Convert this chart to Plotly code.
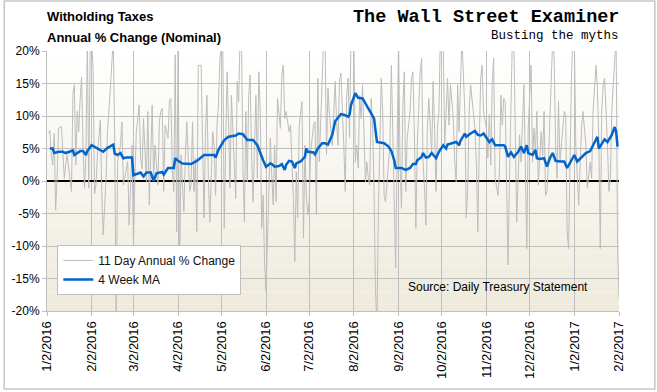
import plotly.graph_objects as go

# ---------------- data ----------------
grey_dates = [
"2016-01-03","2016-01-04","2016-01-05","2016-01-06","2016-01-07","2016-01-08","2016-01-09","2016-01-10","2016-01-12","2016-01-13",
"2016-01-14","2016-01-15","2016-01-16","2016-01-19","2016-01-20","2016-01-21","2016-01-22","2016-01-23","2016-01-24","2016-01-25",
"2016-01-26","2016-01-27","2016-01-28","2016-01-29","2016-01-30","2016-01-31","2016-02-01","2016-02-02","2016-02-03","2016-02-04",
"2016-02-05","2016-02-06","2016-02-08","2016-02-09","2016-02-10","2016-02-12","2016-02-13","2016-02-15","2016-02-17","2016-02-18",
"2016-02-19","2016-02-20","2016-02-22","2016-02-23","2016-02-24","2016-02-27","2016-02-28","2016-03-01","2016-03-02","2016-03-03",
"2016-03-04","2016-03-06","2016-03-07","2016-03-08","2016-03-09","2016-03-11","2016-03-12","2016-03-13","2016-03-15","2016-03-16",
"2016-03-17","2016-03-19","2016-03-20","2016-03-21","2016-03-22","2016-03-23","2016-03-24","2016-03-26","2016-03-27","2016-03-28",
"2016-03-29","2016-03-30","2016-03-31","2016-04-01","2016-04-02","2016-04-03","2016-04-04","2016-04-05","2016-04-06","2016-04-07",
"2016-04-08","2016-04-10","2016-04-11","2016-04-12","2016-04-13","2016-04-14","2016-04-15","2016-04-16","2016-04-18","2016-04-19",
"2016-04-20","2016-04-21","2016-04-22","2016-04-23","2016-04-24","2016-04-26","2016-04-27","2016-04-28","2016-04-29","2016-04-30",
"2016-05-01","2016-05-03","2016-05-04","2016-05-05","2016-05-06","2016-05-07","2016-05-08","2016-05-09","2016-05-11","2016-05-12",
"2016-05-13","2016-05-14","2016-05-15","2016-05-16","2016-05-17","2016-05-18","2016-05-19","2016-05-20","2016-05-21","2016-05-22",
"2016-05-23","2016-05-24","2016-05-26","2016-05-27","2016-05-28","2016-05-29","2016-05-30","2016-05-31","2016-06-01","2016-06-02",
"2016-06-04","2016-06-05","2016-06-06","2016-06-07","2016-06-08","2016-06-09","2016-06-10","2016-06-12","2016-06-13","2016-06-14",
"2016-06-15","2016-06-16","2016-06-18","2016-06-19","2016-06-20","2016-06-21","2016-06-22","2016-06-23","2016-06-24","2016-06-25",
"2016-06-26","2016-06-27","2016-06-28","2016-06-29","2016-06-30","2016-07-01","2016-07-02","2016-07-03","2016-07-05","2016-07-06",
"2016-07-07","2016-07-08","2016-07-09","2016-07-11","2016-07-12","2016-07-13","2016-07-14","2016-07-15","2016-07-16","2016-07-18",
"2016-07-19","2016-07-20","2016-07-21","2016-07-22","2016-07-23","2016-07-24","2016-07-26","2016-07-27","2016-07-28","2016-07-29",
"2016-07-30","2016-07-31","2016-08-02","2016-08-03","2016-08-04","2016-08-05","2016-08-06","2016-08-07","2016-08-08","2016-08-10",
"2016-08-11","2016-08-12","2016-08-13","2016-08-14","2016-08-15","2016-08-16","2016-08-17","2016-08-18","2016-08-19","2016-08-20",
"2016-08-21","2016-08-22","2016-08-23","2016-08-24","2016-08-26","2016-08-27","2016-08-28","2016-08-29","2016-08-30","2016-08-31",
"2016-09-02","2016-09-03","2016-09-04","2016-09-05","2016-09-06","2016-09-07","2016-09-08","2016-09-10","2016-09-11","2016-09-12",
"2016-09-13","2016-09-14","2016-09-15","2016-09-17","2016-09-18","2016-09-19","2016-09-20","2016-09-21","2016-09-22","2016-09-23",
"2016-09-25","2016-09-26","2016-09-27","2016-09-28","2016-09-29","2016-09-30","2016-10-01","2016-10-03","2016-10-04","2016-10-05",
"2016-10-06","2016-10-07","2016-10-08","2016-10-10","2016-10-11","2016-10-12","2016-10-13","2016-10-14","2016-10-15","2016-10-16",
"2016-10-18","2016-10-19","2016-10-20","2016-10-21","2016-10-22","2016-10-23","2016-10-25","2016-10-26","2016-10-27","2016-10-28",
"2016-10-29","2016-10-30","2016-10-31","2016-11-02","2016-11-03","2016-11-04","2016-11-05","2016-11-06","2016-11-07","2016-11-08",
"2016-11-10","2016-11-11","2016-11-12","2016-11-13","2016-11-14","2016-11-15","2016-11-16","2016-11-17","2016-11-18","2016-11-20",
"2016-11-21","2016-11-22","2016-11-23","2016-11-25","2016-11-26","2016-11-28","2016-11-29","2016-11-30","2016-12-01","2016-12-03",
"2016-12-04","2016-12-05","2016-12-06","2016-12-07","2016-12-08","2016-12-10","2016-12-11","2016-12-12","2016-12-13","2016-12-14",
"2016-12-15","2016-12-16","2016-12-18","2016-12-19","2016-12-20","2016-12-21","2016-12-22","2016-12-23","2016-12-24","2016-12-26",
"2016-12-27","2016-12-28","2016-12-29","2016-12-30","2016-12-31","2017-01-01","2017-01-02","2017-01-03","2017-01-04","2017-01-05",
"2017-01-07","2017-01-08","2017-01-10","2017-01-11","2017-01-13","2017-01-14","2017-01-15","2017-01-17","2017-01-18","2017-01-19",
"2017-01-20","2017-01-21","2017-01-22","2017-01-23","2017-01-25","2017-01-26","2017-01-27","2017-01-28","2017-01-29","2017-01-30",
"2017-01-31","2017-02-01","2017-02-02",
]
grey_values = [
7.3,7.8,4.0,2.5,7.3,-4.5,0.4,8.1,8.4,3.5,
0.4,2.5,4.0,-1.6,13.5,14.8,2.5,10.7,7.6,12.5,
16.0,5.5,-1.1,3.5,22,-1.1,22,22,17,-2,
-0.6,4.0,9.4,-1.6,-8.3,0.4,7.6,14.3,22,6.0,
-22,3.0,5.5,9.1,-0.6,3.0,-6.8,5.5,-9.8,0.4,
7.6,11.7,3.5,1.9,9.6,-0.1,10.7,-3.7,11.7,0.4,
5.5,-0.6,9.1,10.7,11.2,-1.6,8.6,6.6,12.5,12.7,
1.4,-1.6,19.4,-7.8,22,-15,4.0,-0.6,-4.7,3.5,
9.1,-1.6,-0.6,9.1,-1.6,3.5,-7.8,17.8,17.8,5.5,
-5.7,7.6,13.2,0.4,-6.3,7.6,5.5,-2.2,8.6,11.7,
18.9,22,-7.3,5.5,16.8,9.1,-1.1,13.2,1.4,-2.7,
15.3,12.2,22,22,1.9,-6.3,10.7,-0.1,13.2,16.3,
4.0,-3.2,13.2,0.4,16.8,10.7,-7.3,-2.2,-12.4,-17,
-1.6,6.6,0.9,-3.7,5.5,-3.2,12.7,8.1,16.3,17.8,
9.6,10.7,7.6,8.6,2.9,-2.7,-12.4,1.4,-5.7,8.1,
10.7,12.2,-8.8,5.5,-2.2,-5.2,-3.2,4.5,8.6,9.1,
-5.2,15.8,3.0,16.3,22,22,4.0,14.3,10.2,5.5,
11.7,15.3,9.1,5.5,15.3,16.6,5.5,-1.6,13.2,15.8,
6.6,22,22,2.9,5.5,2.0,13.2,9.6,14.8,-0.1,
2.9,0.4,-0.6,12.7,8.1,-1.6,-17,-22,-4.7,5.5,
15.8,10.7,-2.2,-3.2,3.5,5.5,17.8,8.1,-3.7,-13.4,
22,3.0,-4.2,11.7,16.8,-1.6,6.6,10.7,15.8,16.8,
7.1,-7.3,5.5,16.8,18.9,3.0,-1.1,-6.8,8.1,12.7,
4.0,15.3,8.1,-1.6,8.1,10.7,22,22,5.5,10.7,
15.8,8.6,14.8,9.6,3.0,-0.1,14.8,7.6,15.8,22,
10.7,-5.7,-1.1,10.7,14.8,12.2,8.1,2.9,-7.8,5.5,
15.8,17.8,10.7,8.1,3.5,10.2,2.5,14.8,18.9,0.4,
-2.2,1.4,13.2,8.6,12.7,12.2,-0.1,-12.9,0.4,22,
22,10.7,-6.3,7.1,2.9,14.8,0.4,-10.4,8.1,17.8,
2.9,8.1,4.5,10.7,-0.6,7.6,3.9,10.7,-2.2,-1.6,
2.9,9.1,22,18.9,5.5,0.4,12.2,2.9,5.5,10.7,
10.2,-7.8,-10.4,5.5,15.8,22,22,5.5,0.4,-3.7,
8.1,10.7,5.5,-1.1,2.9,0.4,10.7,17.8,14.3,6.0,
-10.4,10.7,14.8,15.8,5.5,-1.6,0.4,10.7,14.8,18.4,
22,-9.8,-18,
]

ma_dates = [
"2016-01-04","2016-01-06","2016-01-07","2016-01-10","2016-01-13","2016-01-15","2016-01-20","2016-01-21","2016-01-25","2016-01-27",
"2016-01-29","2016-01-30","2016-02-02","2016-02-05","2016-02-06","2016-02-10","2016-02-13","2016-02-17","2016-02-18","2016-02-20",
"2016-02-22","2016-02-24","2016-02-26","2016-03-01","2016-03-02","2016-03-05","2016-03-07","2016-03-09","2016-03-11","2016-03-14",
"2016-03-16","2016-03-18","2016-03-21","2016-03-22","2016-03-23","2016-03-26","2016-03-30","2016-03-31","2016-04-02","2016-04-05",
"2016-04-11","2016-04-15","2016-04-20","2016-04-27","2016-04-28","2016-04-30","2016-05-04","2016-05-07","2016-05-12","2016-05-14",
"2016-05-17","2016-05-20","2016-05-24","2016-05-27","2016-05-31","2016-06-02","2016-06-05","2016-06-06","2016-06-08","2016-06-11",
"2016-06-13","2016-06-15","2016-06-16","2016-06-18","2016-06-20","2016-06-22","2016-06-23","2016-06-26","2016-06-29","2016-06-30",
"2016-07-01","2016-07-05","2016-07-06","2016-07-08","2016-07-11","2016-07-13","2016-07-15","2016-07-18","2016-07-20","2016-07-24",
"2016-07-26","2016-07-29","2016-07-30","2016-07-31","2016-08-03","2016-08-05","2016-08-08","2016-08-10","2016-08-14","2016-08-16",
"2016-08-18","2016-08-23","2016-08-26","2016-08-28","2016-08-30","2016-08-31","2016-09-04","2016-09-07","2016-09-10","2016-09-12",
"2016-09-14","2016-09-15","2016-09-18","2016-09-19","2016-09-21","2016-09-23","2016-09-25","2016-09-28","2016-09-30","2016-10-03",
"2016-10-05","2016-10-06","2016-10-10","2016-10-12","2016-10-14","2016-10-15","2016-10-18","2016-10-19","2016-10-22","2016-10-25",
"2016-10-27","2016-10-29","2016-10-31","2016-11-02","2016-11-04","2016-11-06","2016-11-08","2016-11-11","2016-11-14","2016-11-15",
"2016-11-17","2016-11-19","2016-11-21","2016-11-24","2016-11-26","2016-11-28","2016-11-30","2016-12-01","2016-12-04","2016-12-06",
"2016-12-07","2016-12-09","2016-12-12","2016-12-14","2016-12-16","2016-12-18","2016-12-20","2016-12-23","2016-12-26","2016-12-28",
"2016-12-31","2017-01-02","2017-01-04","2017-01-07","2017-01-10","2017-01-13","2017-01-15","2017-01-18","2017-01-19","2017-01-21",
"2017-01-23","2017-01-25","2017-01-28","2017-01-30","2017-01-31","2017-02-01",
]
ma_values = [
5.0,5.0,4.3,4.5,4.5,4.3,4.7,4.0,4.6,4.6,
4.0,4.6,5.5,5.1,4.9,4.5,5.1,5.6,4.2,4.0,
4.3,3.5,3.6,3.6,0.9,1.2,1.3,0.7,1.3,1.3,
0.0,1.2,1.3,1.4,1.0,2.0,2.0,3.5,3.1,2.7,
2.6,3.1,4.0,4.0,3.6,4.8,6.3,6.8,7.0,7.3,
7.2,6.3,6.3,5.5,3.2,2.2,2.7,2.6,2.2,2.3,
2.6,1.7,2.5,3.1,3.0,2.0,2.7,3.0,3.7,5.0,
4.5,4.4,4.1,5.0,5.8,5.8,5.6,7.1,9.2,10.3,
10.2,9.9,10.2,11.7,13.5,12.8,12.7,12.0,10.4,9.6,
6.0,5.8,5.3,4.6,3.2,2.0,2.0,1.7,2.0,2.6,
2.6,3.2,3.7,4.3,3.6,3.7,4.3,3.5,4.5,5.5,
5.0,5.6,5.8,6.0,5.5,6.2,7.3,6.8,7.3,7.7,
7.1,7.0,7.3,6.6,6.0,6.4,5.5,5.5,5.5,5.3,
3.7,4.4,3.7,4.5,5.3,4.3,5.5,4.3,4.0,4.8,
3.5,3.4,3.5,2.2,3.5,4.3,3.1,3.0,3.0,2.0,
3.2,4.0,3.0,3.6,4.3,4.6,5.5,6.8,5.0,5.8,
6.4,6.0,7.1,8.3,7.6,5.3,
]

x_tick_dates = ["2016-01-02","2016-02-02","2016-03-02","2016-04-02","2016-05-02","2016-06-02","2016-07-02",
                "2016-08-02","2016-09-02","2016-10-02","2016-11-02","2016-12-02","2017-01-02","2017-02-02"]
x_tick_labels = ["1/2/2016","2/2/2016","3/2/2016","4/2/2016","5/2/2016","6/2/2016","7/2/2016",
                 "8/2/2016","9/2/2016","10/2/2016","11/2/2016","12/2/2016","1/2/2017","2/2/2017"]
y_tick_vals = [-20, -15, -10, -5, 0, 5, 10, 15, 20]
y_tick_labels = ["-20%", "-15%", "-10%", "-5%", "0%", "5%", "10%", "15%", "20%"]

# ---------------- figure ----------------
FONT = "Liberation Sans, Arial, sans-serif"
GRID = "#BFBFBF"

fig = go.Figure()
fig.add_trace(go.Scatter(x=grey_dates, y=grey_values, mode="lines",
                         name="11 Day Annual % Change",
                         line=dict(color="#BDBDBD", width=1)))
fig.add_trace(go.Scatter(x=ma_dates, y=ma_values, mode="lines",
                         name="4 Week MA",
                         line=dict(color="#0066CC", width=2.5)))

# plot-area gradient background (white at top to beige at bottom)
shapes = []
n = 40
top = (255, 255, 255)
bot = (238, 234, 220)
for i in range(n):
    t = (i + 0.5) / n
    c = tuple(round(top[k] + (bot[k] - top[k]) * t) for k in range(3))
    shapes.append(dict(type="rect", xref="paper", yref="paper",
                       x0=0, x1=1, y0=1 - (i + 1) / n, y1=1 - i / n,
                       fillcolor="rgb(%d,%d,%d)" % c, line=dict(width=0), layer="below"))
# chart-area border
shapes.append(dict(type="rect", xref="paper", yref="paper",
                   x0=-0.0748, x1=1.0626, y0=-0.30, y1=1.1923,
                   fillcolor="rgba(0,0,0,0)", line=dict(color="#C6C6C6", width=1.5), layer="above"))

fig.update_layout(
    width=657, height=392,
    margin=dict(l=44, r=38, t=51, b=81),
    paper_bgcolor="white",
    plot_bgcolor="rgba(0,0,0,0)",
    shapes=shapes,
    font=dict(family=FONT, size=12, color="#000000"),
    showlegend=True,
    legend=dict(x=0.018, y=0.254, xanchor="left", yanchor="top",
                bgcolor="white", bordercolor="#BFBFBF", borderwidth=1,
                font=dict(family=FONT, size=12, color="#111111"),
                tracegroupgap=0, itemwidth=30),
    annotations=[
        dict(text="<b>Witholding Taxes</b>", xref="paper", yref="paper", x=-0.003, y=1.1308,
             xanchor="left", yanchor="middle", showarrow=False,
             font=dict(family=FONT, size=13, color="#000000")),
        dict(text="<b>Annual % Change (Nominal)</b>", xref="paper", yref="paper", x=-0.003, y=1.0538,
             xanchor="left", yanchor="middle", showarrow=False,
             font=dict(family=FONT, size=13, color="#000000")),
        dict(text="<b>The Wall Street Examiner</b>", xref="paper", yref="paper", x=1.004, y=1.13,
             xanchor="right", yanchor="middle", showarrow=False,
             font=dict(family="Liberation Mono, Courier New, monospace", size=18.5, color="#000000")),
        dict(text="Busting the myths", xref="paper", yref="paper", x=1.004, y=1.0577,
             xanchor="right", yanchor="middle", showarrow=False,
             font=dict(family="Liberation Mono, Courier New, monospace", size=12.5, color="#000000")),
        dict(text="Source: Daily Treasury Statement", xref="paper", yref="paper", x=0.628, y=0.092,
             xanchor="left", yanchor="middle", showarrow=False,
             font=dict(family=FONT, size=12, color="#000000")),
    ],
)

fig.update_xaxes(
    type="date", range=["2016-01-02", "2017-02-02"],
    tickmode="array", tickvals=x_tick_dates, ticktext=x_tick_labels,
    tickangle=-90, tickfont=dict(family=FONT, size=13, color="#000000"),
    showgrid=True, gridcolor=GRID, gridwidth=1,
    showline=True, linecolor=GRID, linewidth=1,
    ticks="outside", ticklen=4, tickcolor=GRID,
    zeroline=False,
)
fig.update_yaxes(
    range=[-20, 20], tickmode="array", tickvals=y_tick_vals, ticktext=y_tick_labels,
    tickfont=dict(family=FONT, size=12, color="#000000"),
    showgrid=True, gridcolor=GRID, gridwidth=1,
    showline=True, linecolor=GRID, linewidth=1,
    ticks="outside", ticklen=4, tickcolor=GRID,
    zeroline=True, zerolinecolor="#000000", zerolinewidth=1.5,
)

# remove the default 8px page margin so the figure sits at the window origin
fig.write_html("out.html", config={"displayModeBar": False},
               post_script="document.body.style.margin='0';document.body.style.overflow='hidden';")
